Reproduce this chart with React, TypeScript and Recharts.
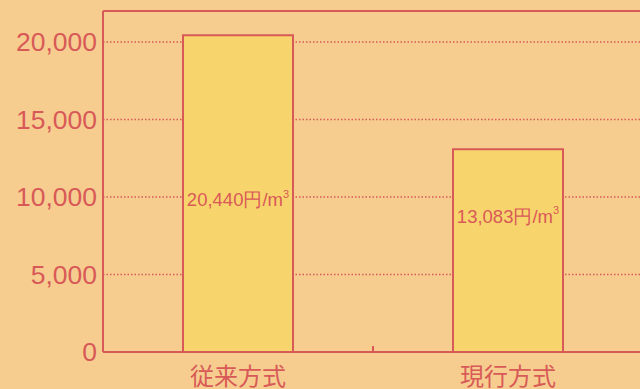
import { BarChart, Bar, XAxis, YAxis, CartesianGrid, ReferenceLine, LabelList } from 'recharts'

const categories = ['従来方式', '現行方式']
const costs = [20440, 13083]
const yTicks = [0, 5000, 10000, 15000, 20000]
const unitText = '円/m'

const data = categories.map((name, i) => ({ name, cost: costs[i] }))

const RED = '#d85a58'
const BG = '#f6cd8f'
const BAR = '#f8d46c'
const labelFrac = [0.52, 0.33]

const CategoryTick = (props: any) => {
    const { x, y, payload, width } = props
    const half = (width ?? 540) / categories.length / 2
    return (
        <g>
            <text
                x={x}
                y={y + 12}
                dy="0.88em"
                textAnchor="middle"
                fill={RED}
                fontSize={24}
                fontFamily='"Noto Sans CJK JP", sans-serif'
            >
                {payload.value}
            </text>
            <line x1={x + half} x2={x + half} y1={y} y2={y - 6} stroke={RED} strokeWidth={2} />
        </g>
    )
}

const CostLabel = (props: any) => {
    const { x, y, width, height, value, index } = props
    const cy = y + height * labelFrac[index]
    return (
        <text
            x={x + width / 2}
            y={cy}
            dy="0.35em"
            textAnchor="middle"
            fill={RED}
            fontSize={18.5}
            fontFamily='"Liberation Sans", Arial, sans-serif'
        >
            {Number(value).toLocaleString('en-US')}
            {unitText}
            <tspan fontSize={11} dy="-0.75em">3</tspan>
        </text>
    )
}

export default function App() {
    return (
        <div style={{ position: 'absolute', left: 0, top: 0, width: 640, height: 389, overflow: 'hidden', background: BG }}>
            <BarChart
                width={660}
                height={389}
                data={data}
                margin={{ top: 11, right: 17, bottom: 0, left: 0 }}
                barCategoryGap={80}
            >
                <CartesianGrid
                    vertical={false}
                    horizontal
                    stroke={RED}
                    strokeWidth={1.5}
                    strokeDasharray="1.5 2"
                    horizontalValues={yTicks.slice(1)}
                />
                <ReferenceLine y={22000} stroke={RED} strokeWidth={2} ifOverflow="visible" />
                <XAxis
                    dataKey="name"
                    height={37}
                    axisLine={{ stroke: RED, strokeWidth: 2 }}
                    tickLine={false}
                    tickSize={0}
                    tickMargin={0}
                    tick={<CategoryTick />}
                    interval={0}
                />
                <YAxis
                    width={103}
                    domain={[0, 22000]}
                    ticks={yTicks}
                    allowDataOverflow
                    axisLine={{ stroke: RED, strokeWidth: 2 }}
                    tickLine={false}
                    tickSize={0}
                    tickMargin={6}
                    tickFormatter={(v: number) => v.toLocaleString('en-US')}
                    tick={{ fill: RED, fontSize: 26.5, fontFamily: '"Liberation Sans", Arial, sans-serif' }}
                />
                <Bar dataKey="cost" fill={BAR} stroke={RED} strokeWidth={2} isAnimationActive={false}>
                    <LabelList dataKey="cost" content={<CostLabel />} />
                </Bar>
            </BarChart>
        </div>
    )
}
